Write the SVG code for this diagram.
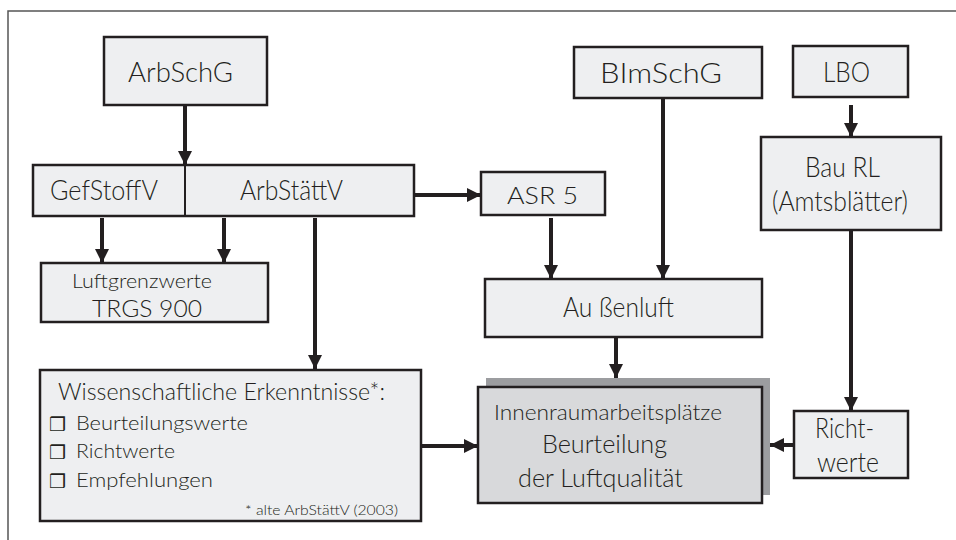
<svg xmlns="http://www.w3.org/2000/svg" width="956" height="540" viewBox="0 0 956 540">
<defs>
<style>
.box{fill:#eeeff1;stroke:#231f20;stroke-width:2.5}
.t{font-family:Lato,"Liberation Sans",sans-serif;font-weight:300;fill:#231f20}
.c{text-anchor:middle}
.ln{stroke:#231f20;stroke-width:4;fill:none}
.bl{font-family:"DejaVu Sans",sans-serif;font-weight:400;fill:#231f20}
</style>
<marker id="ah" viewBox="0 0 10 10" refX="10" refY="5" markerWidth="3.6" markerHeight="3.6" markerUnits="strokeWidth" orient="auto">
<path d="M0,0 L10,5 L0,10 z" fill="#231f20"/>
</marker>
</defs>
<rect width="956" height="540" fill="#ffffff"/>
<path d="M8,540 V11 H956" fill="none" stroke="#555" stroke-width="1.5"/>

<g id="connectors">
<line class="ln" x1="185" y1="105" x2="185" y2="165" marker-end="url(#ah)"/>
<line class="ln" x1="414" y1="195" x2="481" y2="195" marker-end="url(#ah)"/>
<line class="ln" x1="102" y1="218" x2="102" y2="263" marker-end="url(#ah)"/>
<line class="ln" x1="224" y1="218" x2="224" y2="263" marker-end="url(#ah)"/>
<line class="ln" x1="315" y1="218" x2="315" y2="369" marker-end="url(#ah)"/>
<line class="ln" x1="551" y1="218" x2="551" y2="279" marker-end="url(#ah)"/>
<line class="ln" x1="663" y1="98" x2="663" y2="279" marker-end="url(#ah)"/>
<line class="ln" x1="616" y1="337" x2="616" y2="378" marker-end="url(#ah)"/>
<line class="ln" x1="421" y1="446" x2="478" y2="446" marker-end="url(#ah)"/>
<line class="ln" x1="851" y1="105" x2="851" y2="137" marker-end="url(#ah)"/>
<line class="ln" x1="851" y1="230" x2="851" y2="411" marker-end="url(#ah)"/>
<line class="ln" x1="794" y1="445" x2="770" y2="445" marker-end="url(#ah)"/>
</g>

<g id="arbschg">
<rect class="box" x="104" y="37" width="163" height="68"/>
<text class="t" x="128" y="82" font-size="27" textLength="105" lengthAdjust="spacingAndGlyphs">ArbSchG</text>
</g>

<g id="gefstoffv-arbstaettv">
<rect class="box" x="33" y="165" width="381" height="51"/>
<line x1="185" y1="165" x2="185" y2="216" stroke="#231f20" stroke-width="2"/>
<text class="t" x="50" y="200" font-size="27" textLength="108" lengthAdjust="spacingAndGlyphs">GefStoffV</text>
<text class="t" x="240" y="200" font-size="27" textLength="103" lengthAdjust="spacingAndGlyphs">ArbStättV</text>
</g>

<g id="asr5">
<rect class="box" x="481" y="172" width="124" height="43"/>
<text class="t" x="507" y="204" font-size="24" textLength="71" lengthAdjust="spacingAndGlyphs">ASR 5</text>
</g>

<g id="luftgrenzwerte">
<rect class="box" x="41" y="263" width="227" height="59"/>
<text class="t" x="72" y="288" font-size="19" textLength="140" lengthAdjust="spacingAndGlyphs">Luftgrenzwerte</text>
<text class="t" x="92" y="317" font-size="23" textLength="110" lengthAdjust="spacingAndGlyphs">TRGS 900</text>
</g>

<g id="bimschg">
<rect class="box" x="574" y="47" width="188" height="51"/>
<text class="t" x="600" y="83" font-size="28" textLength="122" lengthAdjust="spacingAndGlyphs">BImSchG</text>
</g>

<g id="lbo">
<rect class="box" x="793" y="46" width="115" height="51"/>
<text class="t" x="823" y="82" font-size="28" textLength="47" lengthAdjust="spacingAndGlyphs">LBO</text>
</g>

<g id="baurl">
<rect class="box" x="761" y="137" width="180" height="93"/>
<text class="t" x="805" y="177" font-size="28" textLength="75" lengthAdjust="spacingAndGlyphs">Bau RL</text>
<text class="t" x="772" y="211" font-size="27" textLength="136" lengthAdjust="spacingAndGlyphs">(Amtsblätter)</text>
</g>

<g id="aussenluft">
<rect class="box" x="485" y="279" width="277" height="58"/>
<text class="t" x="563" y="317" font-size="27" textLength="111" lengthAdjust="spacingAndGlyphs">Au ßenluft</text>
</g>

<g id="wissenschaft">
<rect class="box" x="40" y="370" width="381" height="151"/>
<text class="t" x="58" y="400" font-size="23" textLength="327" lengthAdjust="spacingAndGlyphs">Wissenschaftliche Erkenntnisse*:</text>
<text class="bl" x="49" y="431" font-size="19">❒</text>
<text class="t" x="76" y="430" font-size="20" textLength="172" lengthAdjust="spacingAndGlyphs">Beurteilungswerte</text>
<text class="bl" x="49" y="459" font-size="19">❒</text>
<text class="t" x="76" y="458" font-size="20" textLength="99" lengthAdjust="spacingAndGlyphs">Richtwerte</text>
<text class="bl" x="49" y="488" font-size="19">❒</text>
<text class="t" x="76" y="487" font-size="20" textLength="137" lengthAdjust="spacingAndGlyphs">Empfehlungen</text>
<text class="t" x="245" y="515" font-size="14" textLength="153" lengthAdjust="spacingAndGlyphs">* alte ArbStättV (2003)</text>
</g>

<g id="innenraum">
<rect x="486" y="378" width="284" height="117" fill="#9c9da0"/>
<rect x="478" y="387" width="284" height="116" fill="#d8d9db" stroke="#231f20" stroke-width="2.5"/>
<text class="t" x="494" y="420" font-size="21" textLength="228" lengthAdjust="spacingAndGlyphs">Innenraumarbeitsplätze</text>
<text class="t" x="542" y="453" font-size="26" textLength="125" lengthAdjust="spacingAndGlyphs">Beurteilung</text>
<text class="t" x="518" y="487" font-size="26" textLength="165" lengthAdjust="spacingAndGlyphs">der Luftqualität</text>
</g>

<g id="richtwerte">
<rect class="box" x="794" y="411" width="114" height="67"/>
<text class="t" x="815" y="438" font-size="27" textLength="59" lengthAdjust="spacingAndGlyphs">Richt-</text>
<text class="t" x="817" y="472" font-size="27" textLength="62" lengthAdjust="spacingAndGlyphs">werte</text>
</g>
</svg>
